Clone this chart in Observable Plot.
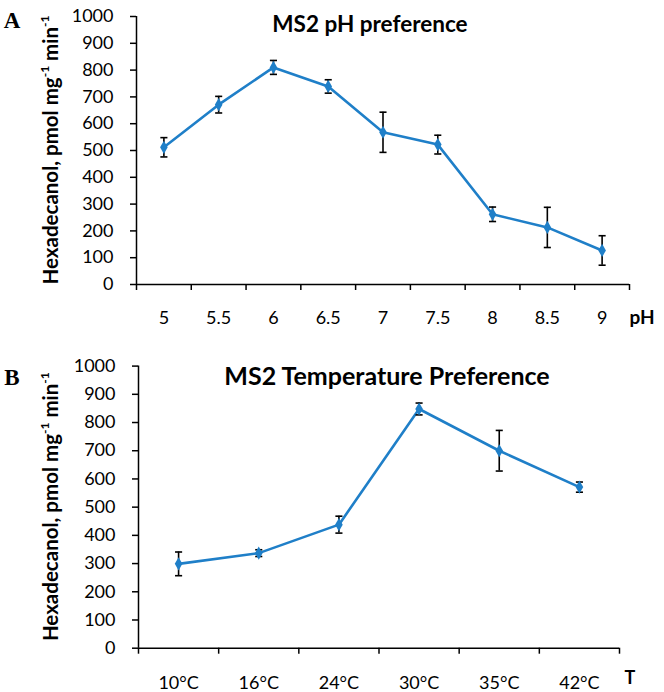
<!DOCTYPE html>
<html><head><meta charset="utf-8">
<script src="https://cdn.jsdelivr.net/npm/d3@7"></script>
<script src="https://cdn.jsdelivr.net/npm/@observablehq/plot@0.6"></script>
<style>body{margin:0;background:#fff} #chart svg{display:block}</style>
</head><body><div id="chart"></div>
<script>
const phLabels = ["5","5.5","6","6.5","7","7.5","8","8.5","9"];
const phValues = [512,671,810,739,568,522,262,213,127];
const phErrors = [36,31,26,25,75,35,27,75,55];
const tempLabels = ["10°C","16°C","24°C","30°C","35°C","42°C"];
const tempValues = [299,337,438,848,700,571];
const tempErrors = [42,12,30,21,72,18];
const yTicks = [0,100,200,300,400,500,600,700,800,900,1000];

const BLUE = "#1f7fc8";
const cap = {draw(ctx, size){ const w = Math.sqrt(size); ctx.moveTo(-w,0); ctx.lineTo(w,0); }};

function panel(o) {
  const n = o.labels.length;
  const data = o.labels.map((l,i)=>({pos:i+0.5, label:l, v:o.values[i], e:o.errors[i]}));
  const svg = Plot.plot({
    width:664, height:o.height,
    marginTop:o.mt, marginBottom:o.mb, marginLeft:o.ml, marginRight:o.mr,
    style:{fontFamily:"Lato, sans-serif", background:"white", color:"black"},
    x:{domain:[0,n], axis:null},
    y:{domain:[0,1000], axis:null},
    marks:[
      Plot.axisY(yTicks, {tickSize:6, tickPadding:17, fontSize:18, label:null, strokeWidth:1.5, tickFormat:d=>String(d)}),
      Plot.axisX(data.map(d=>d.pos), {tickSize:0, tickPadding:o.xPad, fontSize:18, label:null,
        tickFormat: p => o.labels[Math.floor(p)]}),
      Plot.axisX(d3.range(n+1), {tickSize:6, tickFormat:()=>"", label:null, strokeWidth:1.5}),
      Plot.ruleY([0], {strokeWidth:1.5}),
      Plot.ruleX([0], {strokeWidth:1.5}),
      Plot.line(data, {x:"pos", y:"v", stroke:BLUE, strokeWidth:2.6}),
      Plot.ruleX(data, {x:"pos", y1:d=>d.v-d.e, y2:d=>d.v+d.e, stroke:"black", strokeWidth:1.6}),
      Plot.dot(data, {x:"pos", y:d=>d.v+d.e, symbol:cap, r:2, fill:"none", stroke:"black", strokeWidth:1.6}),
      Plot.dot(data, {x:"pos", y:d=>d.v-d.e, symbol:cap, r:2, fill:"none", stroke:"black", strokeWidth:1.6}),
      Plot.dot(data, {x:"pos", y:"v", symbol:"diamond", r:4, fill:BLUE, stroke:null}),
      Plot.text([o.title], {text:d=>d, frameAnchor:"top", dx:o.tdx, dy:o.tdy, fontSize:o.tsize, fontWeight:"bold", lineAnchor:"middle"}),
      Plot.text([o.xName], {text:d=>d, frameAnchor:"bottom-right", textAnchor:"start", dx:o.xndx, dy:o.xndy, fontSize:o.xnsize, fontWeight:"bold", lineAnchor:"middle"})
    ]
  });
  const s = d3.select(svg);
  s.append("text").attr("x",12).attr("y",o.letterY)
    .attr("font-family","'Liberation Serif', serif").attr("font-weight","bold")
    .attr("font-size",23).attr("fill","black").text(o.letter);
  const cy = o.mt + (o.height - o.mt - o.mb)/2;
  const t = s.append("text")
    .attr("transform",`translate(53,${cy}) rotate(-90)`)
    .attr("text-anchor","middle").attr("dominant-baseline","middle")
    .attr("font-family","Lato, sans-serif").attr("font-weight","bold").attr("font-size",20.5).attr("fill","black");
  t.append("tspan").text("Hexadecanol, pmol mg");
  t.append("tspan").attr("baseline-shift","super").attr("font-size",12).text("-1");
  t.append("tspan").text(" min");
  t.append("tspan").attr("baseline-shift","super").attr("font-size",12).text("-1");
  return svg;
}

const root = document.getElementById("chart");
root.appendChild(panel({
  labels:phLabels, values:phValues, errors:phErrors,
  title:"MS2 pH preference", tsize:22.5, tdx:-13, tdy:8,
  xName:"pH", xndx:0, xndy:33, xnsize:19,
  letter:"A", letterY:28,
  height:340, mt:16, mb:56, ml:136, mr:35, xPad:27
}));
root.appendChild(panel({
  labels:tempLabels, values:tempValues, errors:tempErrors,
  title:"MS2 Temperature Preference", tsize:25, tdx:8, tdy:10.5,
  xName:"T", xndx:5, xndy:30, xnsize:18,
  letter:"B", letterY:45,
  height:352, mt:25.6, mb:44.3, ml:138, mr:45, xPad:28
}));
</script></body></html>
